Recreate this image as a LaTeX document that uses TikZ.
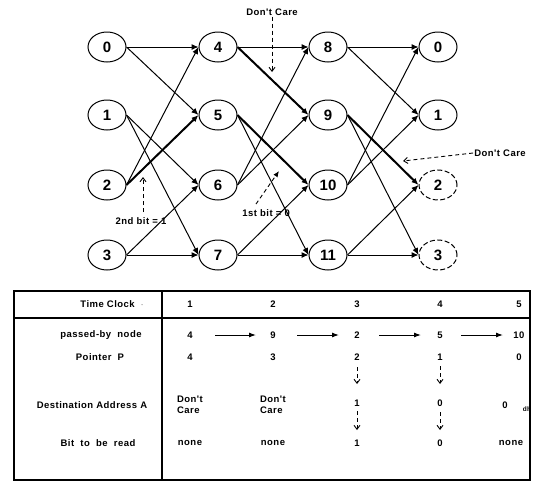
\documentclass[tikz,border=0pt]{standalone}
\usepackage{fontspec}
\setmainfont{Liberation Sans}
\newfontfamily\lblfont[LetterSpace=5]{Liberation Sans}
\usetikzlibrary{shapes.geometric,arrows.meta}
\tikzset{
  nd/.style={draw, ellipse, line width=1pt, minimum width=38pt, minimum height=30pt,
    inner sep=0pt, font=\fontsize{15}{15}\selectfont\bfseries},
  dcnd/.style={nd, dashed, dash pattern=on 5pt off 2.5pt},
  edge/.style={line width=1pt, -{Latex[length=7pt,width=6pt]}},
  pathedge/.style={edge, line width=2pt},
  lbl/.style={font=\lblfont\fontsize{9.5}{11.5}\selectfont\bfseries, inner sep=1pt},
  note/.style={dashed, dash pattern=on 4pt off 3pt, line width=0.9pt, -{Straight Barb[length=4pt,width=6pt]}},
  tabarrow/.style={line width=1pt, -{Latex[length=7pt,width=5pt]}},
  tabline/.style={line width=1.1pt},
}
\begin{document}
\begin{tikzpicture}[x=1pt, y=-1pt]
\useasboundingbox (0,0) rectangle (537,482);

% ---- switching stages ----
\foreach \n/\r in {0/47, 1/115, 2/185, 3/255} {
  \node[nd] (i\n) at (107,\r) {\n};
}
\foreach \n/\r in {4/47, 5/115, 6/185, 7/255} {
  \node[nd] (a\n) at (218,\r) {\n};
}
\foreach \n/\r in {8/47, 9/115, 10/185, 11/255} {
  \node[nd] (b\n) at (328,\r) {\n};
}
\node[nd] (o0) at (438,47) {0};
\node[nd] (o1) at (438,115) {1};
\node[dcnd] (o2) at (438,185) {2};
\node[dcnd] (o3) at (438,255) {3};

% stage 1
\draw[edge] (i0.east) -- (a4.west);
\draw[edge] (i0.east) -- (a5.west);
\draw[edge] (i1.east) -- (a6.west);
\draw[edge] (i1.east) -- (a7.west);
\draw[edge] (i2.east) -- (a4.west);
\draw[pathedge] (i2.east) -- (a5.west);
\draw[edge] (i3.east) -- (a6.west);
\draw[edge] (i3.east) -- (a7.west);
% stage 2
\draw[edge] (a4.east) -- (b8.west);
\draw[pathedge] (a4.east) -- (b9.west);
\draw[pathedge] (a5.east) -- (b10.west);
\draw[edge] (a5.east) -- (b11.west);
\draw[edge] (a6.east) -- (b8.west);
\draw[edge] (a6.east) -- (b9.west);
\draw[edge] (a7.east) -- (b10.west);
\draw[edge] (a7.east) -- (b11.west);
% stage 3
\draw[edge] (b8.east) -- (o0.west);
\draw[edge] (b8.east) -- (o1.west);
\draw[pathedge] (b9.east) -- (o2.west);
\draw[edge] (b9.east) -- (o3.west);
\draw[edge] (b10.east) -- (o0.west);
\draw[edge] (b10.east) -- (o1.west);
\draw[edge] (b11.east) -- (o2.west);
\draw[edge] (b11.east) -- (o3.west);

% ---- annotations ----
\node[lbl] (dc1) at (272,12) {Don't Care};
\coordinate (dc1end) at (272,72);
\draw[note] (dc1.south) -- (dc1end);

\node[lbl] (dc2) at (500,153) {Don't Care};
\coordinate (dc2end) at (403,161);
\draw[note] (dc2.west) -- (dc2end);

\node[lbl] (bit2) at (141,221) {2nd bit = 1};
\coordinate (bit2start) at (143,212);
\coordinate (bit2end) at (143,177);
\draw[note] (bit2start) -- (bit2end);

\node[lbl, anchor=east] (bit1) at (291,213) {1st bit = 0};
\coordinate (bit1start) at (256,204);
\coordinate (bit1end) at (279,171);
\draw[dashed, dash pattern=on 4pt off 3pt, line width=0.9pt, -{Latex[length=6pt,width=5pt]}] (bit1start) -- (bit1end);

% ---- table ----
\draw[tabline] (14,291) rectangle (530,480);
\draw[tabline] (162,291) -- (162,480);
\draw[tabline] (14,318) -- (530,318);

\node[lbl] (hT) at (112,304) {Time Clock ~$\cdot$};
\node[lbl] (hP) at (101,335) {passed-by~ node};
\node[lbl] (hQ) at (100,357) {Pointer~ P};
\node[lbl] (hD) at (92,405) {Destination Address A};
\node[lbl] (hB) at (98,443) {Bit~ to~ be~ read};

\foreach \k/\x in {1/190, 2/273, 3/357, 4/440, 5/519} {
  \node[lbl] (t\k) at (\x,304) {\k};
}

\node[lbl] (p1) at (190,335) {4};
\node[lbl] (p2) at (273,335) {9};
\node[lbl] (p3) at (357,335) {2};
\node[lbl] (p4) at (440,335) {5};
\node[lbl] (p5) at (519,335) {10};
\foreach \s/\e in {215/256, 297/339, 379/421, 461/503} {
  \draw[tabarrow] (\s,335) -- (\e,335);
}

\node[lbl] (q1) at (190,357) {4};
\node[lbl] (q2) at (273,357) {3};
\node[lbl] (q3) at (357,357) {2};
\node[lbl] (q4) at (440,357) {1};
\node[lbl] (q5) at (519,357) {0};

\node[lbl, align=left] (d1) at (190,405) {Don't\\Care};
\node[lbl, align=left] (d2) at (273,405) {Don't\\Care};
\node[lbl] (d3) at (357,403) {1};
\node[lbl] (d4) at (440,403) {0};
\node[lbl] (d5) at (505,405) {0};
\node[lbl, font=\lblfont\fontsize{6.5}{7}\selectfont\bfseries] (d5x) at (527,409) {dh};

\coordinate (a3top) at (357,367);
\coordinate (a3bot) at (357,384);
\coordinate (a4top) at (440,366);
\coordinate (a4bot) at (440,384);
\coordinate (b3top) at (357,411);
\coordinate (b3bot) at (357,430);
\coordinate (b4top) at (440,412);
\coordinate (b4bot) at (440,430);
\draw[note] (a3top) -- (a3bot);
\draw[note] (a4top) -- (a4bot);
\draw[note] (b3top) -- (b3bot);
\draw[note] (b4top) -- (b4bot);

\node[lbl] (r1) at (190,443) {none};
\node[lbl] (r2) at (273,443) {none};
\node[lbl] (r3) at (357,443) {1};
\node[lbl] (r4) at (440,443) {0};
\node[lbl] (r5) at (511,443) {none};
\end{tikzpicture}
\end{document}
